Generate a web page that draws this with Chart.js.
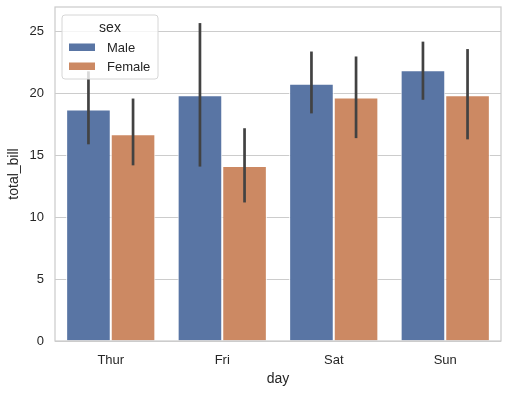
<!DOCTYPE html>
<html>
<head>
<meta charset="utf-8">
<script src="https://cdn.jsdelivr.net/npm/chart.js@4"></script>
<style>
  html, body { margin: 0; padding: 0; background: #fff; }
  #wrap { width: 510px; height: 393px; }
</style>
</head>
<body>
<div id="wrap"><canvas id="myChart" width="510" height="393"></canvas></div>
<script>
// data
var days = ['Thur', 'Fri', 'Sat', 'Sun'];
var male = [18.71, 19.86, 20.80, 21.89];
var female = [16.72, 14.15, 19.68, 19.87];
var maleLow = [15.9, 14.1, 18.4, 19.5];
var maleHigh = [21.8, 25.7, 23.4, 24.2];
var femaleLow = [14.2, 11.2, 16.4, 16.3];
var femaleHigh = [19.6, 17.2, 23.0, 23.6];
var yTicks = [0, 5, 10, 15, 20, 25];

var FONT = '"Liberation Sans", Arial, sans-serif';
var blue = '#5975a4';
var orange = '#cc8963';

// draws the confidence interval lines on top of each bar
var errorBars = {
  id: 'errorBars',
  afterDatasetsDraw: function (chart) {
    var ctx = chart.ctx;
    var y = chart.scales.y;
    var lows = [maleLow, femaleLow];
    var highs = [maleHigh, femaleHigh];
    ctx.save();
    ctx.strokeStyle = '#424242';
    ctx.lineWidth = 2.7;
    ctx.lineCap = 'butt';
    chart.data.datasets.forEach(function (ds, i) {
      var meta = chart.getDatasetMeta(i);
      meta.data.forEach(function (bar, j) {
        ctx.beginPath();
        ctx.moveTo(bar.x, y.getPixelForValue(lows[i][j]));
        ctx.lineTo(bar.x, y.getPixelForValue(highs[i][j]));
        ctx.stroke();
      });
    });
    ctx.restore();
  }
};

// frame around the axes plus the legend box
var frameLegend = {
  id: 'frameLegend',
  afterDraw: function (chart) {
    var ctx = chart.ctx;
    var a = chart.chartArea;
    ctx.save();
    ctx.strokeStyle = '#cccccc';
    ctx.lineWidth = 1.25;
    ctx.strokeRect(a.left, a.top, a.right - a.left, a.bottom - a.top);

    // legend
    var lx = a.left + 7, ly = a.top + 8, lw = 96, lh = 64, r = 3;
    ctx.beginPath();
    ctx.moveTo(lx + r, ly);
    ctx.arcTo(lx + lw, ly, lx + lw, ly + lh, r);
    ctx.arcTo(lx + lw, ly + lh, lx, ly + lh, r);
    ctx.arcTo(lx, ly + lh, lx, ly, r);
    ctx.arcTo(lx, ly, lx + lw, ly, r);
    ctx.closePath();
    ctx.fillStyle = 'rgba(255,255,255,0.8)';
    ctx.fill();
    ctx.strokeStyle = '#d6d6d6';
    ctx.lineWidth = 1;
    ctx.stroke();

    ctx.fillStyle = '#262626';
    ctx.font = '14px ' + FONT;
    ctx.textAlign = 'center';
    ctx.textBaseline = 'middle';
    ctx.fillText('sex', lx + lw / 2, ly + 13);

    ctx.font = '13px ' + FONT;
    ctx.textAlign = 'left';
    chart.data.datasets.forEach(function (ds, i) {
      var ry = ly + 32 + i * 19;
      ctx.fillStyle = ds.backgroundColor;
      ctx.fillRect(lx + 7, ry - 3.5, 26, 7.5);
      ctx.fillStyle = '#262626';
      ctx.fillText(ds.label, lx + 45, ry + 1);
    });
    ctx.restore();
  }
};

var ctx = document.getElementById('myChart').getContext('2d');
var chart = new Chart(ctx, {
  type: 'bar',
  data: {
    labels: days,
    datasets: [{
      label: 'Male',
      backgroundColor: blue,
      borderColor: '#ffffff',
      borderWidth: 1,
      data: male
    }, {
      label: 'Female',
      backgroundColor: orange,
      borderColor: '#ffffff',
      borderWidth: 1,
      data: female
    }]
  },
  options: {
    responsive: false,
    animation: false,
    layout: { padding: { top: 7, right: 9, left: 0, bottom: 0 } },
    datasets: { bar: { categoryPercentage: 0.8, barPercentage: 1.0 } },
    plugins: {
      legend: { display: false },
      tooltip: { enabled: false }
    },
    scales: {
      x: {
        grid: { display: false },
        border: { display: false },
        ticks: { color: '#262626', font: { family: FONT, size: 13 }, padding: 4 },
        title: { display: true, text: 'day', color: '#262626', font: { family: FONT, size: 14 }, padding: { top: 0, bottom: 5 } },
        afterFit: function (s) { s.height = 52; s.paddingLeft = 0; s.paddingRight = 0; }
      },
      y: {
        min: 0,
        max: 27.0,
        afterBuildTicks: function (s) {
          s.ticks = yTicks.map(function (v) { return { value: v }; });
        },
        grid: { color: '#cccccc', lineWidth: 1, drawTicks: false },
        border: { display: false },
        ticks: { color: '#262626', font: { family: FONT, size: 13 }, padding: 11 },
        title: { display: true, text: 'total_bill', color: '#262626', font: { family: FONT, size: 14 }, padding: { top: 6, bottom: 2 } },
        afterFit: function (s) { s.width = 55; s.paddingTop = 0; s.paddingBottom = 0; }
      }
    }
  },
  plugins: [errorBars, frameLegend]
});
</script>
</body>
</html>
